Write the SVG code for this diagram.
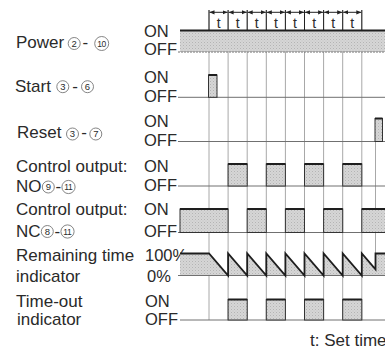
<svg xmlns="http://www.w3.org/2000/svg" width="385" height="350" viewBox="0 0 385 350">
<defs>
<marker id="ah" viewBox="0 0 6 6" refX="6" refY="3" markerWidth="5" markerHeight="5" orient="auto-start-reverse" markerUnits="userSpaceOnUse">
<path d="M0,0.5 L6,3 L0,5.5 Z" fill="#222"/>
</marker>
<pattern id="dots" width="3" height="3" patternUnits="userSpaceOnUse">
<rect width="3" height="3" fill="#d6d6d6"/>
<rect x="0" y="0" width="1" height="1" fill="#b4b4b4"/>
<rect x="1.5" y="1.5" width="1" height="1" fill="#c2c2c2"/>
</pattern>
</defs>
<style>
text{font-family:"Liberation Sans",Arial,sans-serif;fill:#2a2a2a}
.lbl{font-size:17px}
.lv{font-size:16.5px}
.tt{font-size:14px;text-anchor:middle}
.cn{font-size:9.5px;text-anchor:middle}
.cn2{font-size:8.5px;text-anchor:middle;letter-spacing:-0.4px}
.circ{fill:none;stroke:#777;stroke-width:0.9}
.grid{stroke:#a8a8a8;stroke-width:1;fill:none}
.base{stroke:#707070;stroke-width:1;fill:none}
.hi{fill:url(#dots);stroke:#333;stroke-width:1}
.top{stroke:#1e1e1e;stroke-width:2;fill:none}
.br{stroke:#222;stroke-width:1;fill:none}
</style>
<rect width="385" height="350" fill="#ffffff"/>

<g id="grid">
<path class="grid" d="M209,10V320M228.1,10V320M247.2,10V320M266.3,10V320M285.4,10V320M304.5,10V320M323.6,10V320M342.7,10V320M361.8,10V320M375.5,141.5V275.5"/>
</g>

<g id="set-time-brackets">
<path class="br" d="M209,10V30M228.1,10V30M247.2,10V30M266.3,10V30M285.4,10V30M304.5,10V30M323.6,10V30M342.7,10V30M361.8,10V30"/>
<g class="br" marker-start="url(#ah)" marker-end="url(#ah)">
<line x1="209.5" y1="12.3" x2="227.6" y2="12.3"/>
<line x1="228.6" y1="12.3" x2="246.7" y2="12.3"/>
<line x1="247.7" y1="12.3" x2="265.8" y2="12.3"/>
<line x1="266.8" y1="12.3" x2="284.9" y2="12.3"/>
<line x1="285.9" y1="12.3" x2="304" y2="12.3"/>
<line x1="305" y1="12.3" x2="323.1" y2="12.3"/>
<line x1="324.1" y1="12.3" x2="342.2" y2="12.3"/>
<line x1="343.2" y1="12.3" x2="361.3" y2="12.3"/>
</g>
<text class="tt" x="218.6" y="27.5">t</text>
<text class="tt" x="237.7" y="27.5">t</text>
<text class="tt" x="256.8" y="27.5">t</text>
<text class="tt" x="275.9" y="27.5">t</text>
<text class="tt" x="295" y="27.5">t</text>
<text class="tt" x="314.1" y="27.5">t</text>
<text class="tt" x="333.2" y="27.5">t</text>
<text class="tt" x="352.3" y="27.5">t</text>
</g>

<g id="power">
<text class="lbl" x="16" y="48.3">Power</text>
<circle class="circ" cx="74.2" cy="43.5" r="6"/><text class="cn" x="74.2" y="46.8">2</text>
<text class="lbl" x="82.5" y="48.3">-</text>
<circle class="circ" cx="101.7" cy="43.5" r="7"/><text class="cn2" x="101.5" y="46.5">10</text>
<text class="lv" x="144" y="36.7">ON</text>
<text class="lv" x="144" y="55">OFF</text>
<rect x="180" y="30.5" width="205" height="21.5" fill="url(#dots)"/>
<line class="top" x1="180" y1="30.5" x2="385" y2="30.5"/>
<line class="base" x1="178" y1="52" x2="385" y2="52" stroke-dasharray="2 1"/>
</g>

<g id="start">
<text class="lbl" x="15" y="91.7">Start</text>
<circle class="circ" cx="62.8" cy="86.7" r="6"/><text class="cn" x="62.8" y="90">3</text>
<text class="lbl" x="72.3" y="91.7">-</text>
<circle class="circ" cx="87.5" cy="86.7" r="6"/><text class="cn" x="87.5" y="90">6</text>
<text class="lv" x="144" y="83.3">ON</text>
<text class="lv" x="144" y="101.7">OFF</text>
<line class="base" x1="178" y1="97.3" x2="385" y2="97.3"/>
<rect class="hi" x="208.5" y="75" width="8.5" height="22.3"/>
<line class="top" x1="208.5" y1="75" x2="217" y2="75"/>
</g>

<g id="reset">
<text class="lbl" x="17" y="138.3">Reset</text>
<circle class="circ" cx="72.5" cy="134" r="6"/><text class="cn" x="72.5" y="137.3">3</text>
<text class="lbl" x="81.3" y="138.3">-</text>
<circle class="circ" cx="95.8" cy="134" r="6"/><text class="cn" x="95.8" y="137.3">7</text>
<text class="lv" x="144" y="126.7">ON</text>
<text class="lv" x="144" y="146">OFF</text>
<line class="base" x1="178" y1="141.5" x2="385" y2="141.5"/>
<rect class="hi" x="375" y="118.5" width="7.5" height="23"/>
<line class="top" x1="375" y1="118.5" x2="382.5" y2="118.5"/>
</g>

<g id="control-output-no">
<text class="lbl" x="16" y="171.7">Control output:</text>
<text class="lbl" x="16" y="192">NO</text>
<circle class="circ" cx="48.3" cy="187" r="6"/><text class="cn" x="48.3" y="190.3">9</text>
<text class="lbl" x="55.5" y="192">-</text>
<circle class="circ" cx="68.5" cy="187" r="6.6"/><text class="cn2" x="68.3" y="190">11</text>
<text class="lv" x="144" y="171.7">ON</text>
<text class="lv" x="144" y="191">OFF</text>
<line class="base" x1="178" y1="186" x2="385" y2="186"/>
<rect class="hi" x="228.1" y="164" width="19.1" height="22"/>
<rect class="hi" x="266.3" y="164" width="19.1" height="22"/>
<rect class="hi" x="304.5" y="164" width="19.1" height="22"/>
<rect class="hi" x="342.7" y="164" width="19.1" height="22"/>
<path class="top" d="M228.1,164H247.2M266.3,164H285.4M304.5,164H323.6M342.7,164H361.8"/>
</g>

<g id="control-output-nc">
<text class="lbl" x="16" y="215">Control output:</text>
<text class="lbl" x="16" y="236.5">NC</text>
<circle class="circ" cx="47.3" cy="231.5" r="6"/><text class="cn" x="47.3" y="234.8">8</text>
<text class="lbl" x="54.5" y="236.5">-</text>
<circle class="circ" cx="67.5" cy="231.5" r="6.6"/><text class="cn2" x="67.3" y="234.5">11</text>
<text class="lv" x="144" y="215">ON</text>
<text class="lv" x="144" y="237">OFF</text>
<line class="base" x1="178" y1="232.5" x2="385" y2="232.5"/>
<rect class="hi" x="180" y="209" width="48.1" height="23.5"/>
<rect class="hi" x="247.2" y="209" width="19.1" height="23.5"/>
<rect class="hi" x="285.4" y="209" width="19.1" height="23.5"/>
<rect class="hi" x="323.6" y="209" width="19.1" height="23.5"/>
<rect class="hi" x="361.8" y="209" width="24" height="23.5"/>
<path class="top" d="M180,209H228.1M247.2,209H266.3M285.4,209H304.5M323.6,209H342.7M361.8,209H385"/>
</g>

<g id="remaining-time-indicator">
<text class="lbl" x="16" y="260.7">Remaining time</text>
<text class="lbl" x="16" y="281.7">indicator</text>
<text class="lv" x="145" y="260.7">100%</text>
<text class="lv" x="147" y="281.7">0%</text>
<path fill="url(#dots)" stroke="none" d="M180,253.5H209L228.1,275.5V253.5L247.2,275.5V253.5L266.3,275.5V253.5L285.4,275.5V253.5L304.5,275.5V253.5L323.6,275.5V253.5L342.7,275.5V253.5L361.8,275.5V253.5L375.5,269.3V253.5H385V275.5H180Z"/>
<line class="base" x1="178" y1="275.5" x2="385" y2="275.5"/>
<path fill="none" stroke="#1e1e1e" stroke-width="1.8" stroke-linejoin="miter" d="M180,253.5H209L228.1,275.5V253.5L247.2,275.5V253.5L266.3,275.5V253.5L285.4,275.5V253.5L304.5,275.5V253.5L323.6,275.5V253.5L342.7,275.5V253.5L361.8,275.5V253.5L375.5,269.3V253.5H385"/>
</g>

<g id="time-out-indicator">
<text class="lbl" x="16" y="307.3">Time-out</text>
<text class="lbl" x="17" y="325">indicator</text>
<text class="lv" x="145" y="307.3">ON</text>
<text class="lv" x="145" y="325">OFF</text>
<line class="base" x1="180" y1="320" x2="385" y2="320"/>
<rect class="hi" x="228.1" y="299.5" width="19.1" height="20.5"/>
<rect class="hi" x="266.3" y="299.5" width="19.1" height="20.5"/>
<rect class="hi" x="304.5" y="299.5" width="19.1" height="20.5"/>
<rect class="hi" x="342.7" y="299.5" width="19.1" height="20.5"/>
<path class="top" d="M228.1,299.5H247.2M266.3,299.5H285.4M304.5,299.5H323.6M342.7,299.5H361.8"/>
</g>

<text class="lbl" x="310" y="346">t: Set time</text>
</svg>
